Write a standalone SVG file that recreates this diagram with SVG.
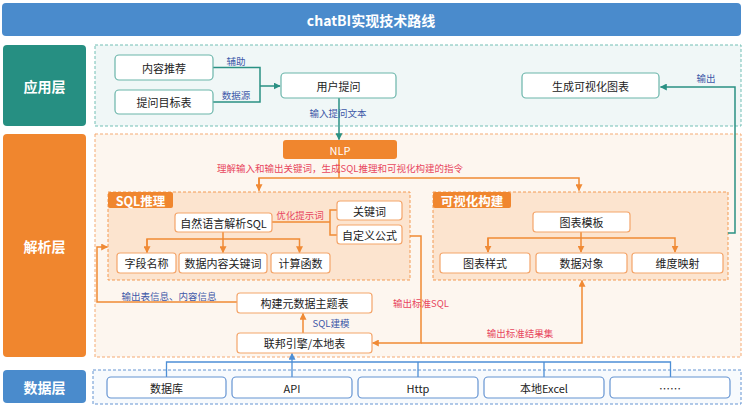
<svg xmlns="http://www.w3.org/2000/svg" width="743" height="406" viewBox="0 0 743 406">
<defs>
<style>
text{font-family:"Noto Sans CJK SC","Liberation Sans",sans-serif;text-anchor:middle;dominant-baseline:central}
.n{font-size:11px;fill:#222}
.hd{font-size:14px;font-weight:bold;fill:#fff}
.tab{font-size:12.5px;font-weight:bold;fill:#fff}
.lb{font-size:9.5px;fill:#3d58a8}
.lr{font-size:9.5px;fill:#e8465e}
.tn{fill:#fff;stroke:#6ab5aa;stroke-width:1.2}
.on{fill:#fff;stroke:#f4a56a;stroke-width:1.2}
.bn{fill:#fff;stroke:#6594d2;stroke-width:1.2}
.ct{stroke:#2a9184;stroke-width:1.5;fill:none}
.co{stroke:#f08a35;stroke-width:1.5;fill:none}
.cb{stroke:#4d8fd6;stroke-width:1.3;fill:none}
</style>
<marker id="at" viewBox="0 0 10 10" refX="9" refY="5" markerWidth="7" markerHeight="7" markerUnits="userSpaceOnUse" orient="auto"><path d="M0,0L10,5L0,10z" fill="#2a9184"/></marker>
<marker id="ao" viewBox="0 0 10 10" refX="9" refY="5" markerWidth="7" markerHeight="7" markerUnits="userSpaceOnUse" orient="auto"><path d="M0,0L10,5L0,10z" fill="#f08a35"/></marker>
<marker id="ab" viewBox="0 0 10 10" refX="9" refY="5" markerWidth="7" markerHeight="7" markerUnits="userSpaceOnUse" orient="auto"><path d="M0,0L10,5L0,10z" fill="#4d8fd6"/></marker>
</defs>
<rect width="743" height="406" fill="#fff"/>

<g id="title"><rect x="2" y="3" width="739" height="33" rx="4" fill="#4a8bcc"/><text x="371" y="20" class="hd">chatBI实现技术路线</text></g>

<g id="layers">
<rect x="95" y="45" width="646" height="81" fill="#f0f7f7" stroke="#72bfb5" stroke-dasharray="3,2"/>
<rect x="95" y="134" width="646" height="223" fill="#fdf6ef" stroke="#f5ab74" stroke-dasharray="3,2"/>
<rect x="93" y="370" width="648" height="34" fill="#f7fafd" stroke="#6594d2" stroke-dasharray="3,2"/>
</g>

<g id="layer-app"><rect x="3" y="45" width="83" height="81" rx="4" fill="#268f82"/><text x="44.5" y="85.5" class="hd">应用层</text></g>
<g id="layer-parse"><rect x="3" y="134" width="83" height="223" rx="4" fill="#f0862e"/><text x="44.5" y="245.5" class="hd">解析层</text></g>
<g id="layer-data"><rect x="3" y="370" width="83" height="33" rx="4" fill="#4a8bcc"/><text x="44.5" y="386.5" class="hd">数据层</text></g>

<g id="sql-group">
<rect x="108" y="192" width="302" height="88" fill="#fce4cf" stroke="#f39a52" stroke-dasharray="3,2"/>
<rect x="108" y="192" width="65" height="16" rx="2" fill="#f0862e"/><text x="140.5" y="200" class="tab">SQL推理</text>
</g>
<g id="vis-group">
<rect x="433" y="192" width="295" height="88" fill="#fce4cf" stroke="#f39a52" stroke-dasharray="3,2"/>
<rect x="433" y="192" width="78" height="16" rx="2" fill="#f0862e"/><text x="472" y="200" class="tab">可视化构建</text>
</g>

<g id="connectors">
<path class="ct" d="M213,67.5H260V102H213M260,86H280" marker-end="url(#at)"/>
<path class="ct" d="M339,98V139.5" marker-end="url(#at)"/>
<path class="ct" d="M728,233H735V87H660.5" marker-end="url(#at)"/>
<path class="co" d="M339,159V178M259,190.5V178H579V190.5" marker-end="url(#ao)"/>
<path class="co" d="M259,178V190.5" marker-end="url(#ao)"/>
<path class="co" d="M272,222H330M337,210H330V235H337"/>
<path class="co" d="M223,232V239M147,252.5V239H299.5V252.5" marker-end="url(#ao)"/>
<path class="co" d="M147,239V252.5" marker-end="url(#ao)"/>
<path class="co" d="M223,239V252.5" marker-end="url(#ao)"/>
<path class="co" d="M581,232V238M488,252V238H675V252" marker-end="url(#ao)"/>
<path class="co" d="M488,238V252" marker-end="url(#ao)"/>
<path class="co" d="M581,238V252" marker-end="url(#ao)"/>
<path class="co" d="M237,302H97V247H107.5" marker-end="url(#ao)"/>
<path class="co" d="M303,333V313.5" marker-end="url(#ao)"/>
<path class="co" d="M410,236H421V343H372.5" marker-end="url(#ao)"/>
<path class="co" d="M421,343H582V280.5" marker-end="url(#ao)"/>
<path class="cb" d="M166.5,377V362H670.5V377M292,362V353.5" marker-end="url(#ab)"/>
<path class="cb" d="M418,362V377M544,362V377M292,362V377"/>
</g>

<g id="labels">
<text x="236" y="61" class="lb">辅助</text>
<text x="236" y="95" class="lb">数据源</text>
<text x="338" y="113" class="lb">输入提问文本</text>
<text x="706" y="78" class="lb">输出</text>
<text x="340" y="168" class="lr">理解输入和输出关键词，生成SQL推理和可视化构建的指令</text>
<text x="300" y="215" class="lr">优化提示词</text>
<text x="169" y="296" class="lb">输出表信息、内容信息</text>
<text x="331" y="323" class="lb">SQL建模</text>
<text x="421" y="303" class="lr">输出标准SQL</text>
<text x="520" y="333" class="lr">输出标准结果集</text>
</g>

<g id="n-neirong"><rect x="115" y="55" width="98" height="25" rx="4" class="tn"/><text x="164" y="67.5" class="n">内容推荐</text></g>
<g id="n-tiwen-mubiao"><rect x="115" y="90" width="98" height="24" rx="4" class="tn"/><text x="164" y="102" class="n">提问目标表</text></g>
<g id="n-yonghu"><rect x="281" y="73" width="115" height="25" rx="4" class="tn"/><text x="338.5" y="85.5" class="n">用户提问</text></g>
<g id="n-shengcheng"><rect x="522" y="73" width="137" height="25" rx="4" class="tn"/><text x="590.5" y="85.5" class="n">生成可视化图表</text></g>

<g id="n-nlp"><rect x="283" y="140" width="114" height="19" rx="3" fill="#f0862e"/><text x="340" y="149.5" class="n" style="fill:#fff">NLP</text></g>

<g id="n-zrjx"><rect x="175" y="213" width="97" height="19" rx="3" class="on"/><text x="223.5" y="222.5" class="n">自然语言解析SQL</text></g>
<g id="n-gjc"><rect x="337" y="201" width="65" height="19" rx="3" class="on"/><text x="369.5" y="210.5" class="n">关键词</text></g>
<g id="n-zdy"><rect x="337" y="225" width="65" height="19" rx="3" class="on"/><text x="369.5" y="234.5" class="n">自定义公式</text></g>
<g id="n-zdmc"><rect x="117" y="253" width="59" height="20" rx="3" class="on"/><text x="146.5" y="263" class="n">字段名称</text></g>
<g id="n-sjnr"><rect x="179" y="253" width="88" height="20" rx="3" class="on"/><text x="223" y="263" class="n">数据内容关键词</text></g>
<g id="n-jshs"><rect x="271" y="253" width="59" height="20" rx="3" class="on"/><text x="300.5" y="263" class="n">计算函数</text></g>

<g id="n-tbmb"><rect x="533" y="212" width="97" height="20" rx="3" class="on"/><text x="581.5" y="222" class="n">图表模板</text></g>
<g id="n-tbys"><rect x="440" y="253" width="90" height="20" rx="3" class="on"/><text x="485" y="263" class="n">图表样式</text></g>
<g id="n-sjdx"><rect x="536" y="253" width="91" height="20" rx="3" class="on"/><text x="581.5" y="263" class="n">数据对象</text></g>
<g id="n-wdys"><rect x="632" y="253" width="91" height="20" rx="3" class="on"/><text x="677.5" y="263" class="n">维度映射</text></g>

<g id="n-gjys"><rect x="237" y="293" width="135" height="20" rx="3" class="on"/><text x="304.5" y="303" class="n">构建元数据主题表</text></g>
<g id="n-lbyq"><rect x="237" y="333" width="135" height="20" rx="3" class="on"/><text x="304.5" y="343" class="n">联邦引擎/本地表</text></g>

<g id="n-sjk"><rect x="107" y="377" width="119" height="21" rx="4" class="bn"/><text x="166.5" y="387.5" class="n">数据库</text></g>
<g id="n-api"><rect x="232" y="377" width="120" height="21" rx="4" class="bn"/><text x="292" y="387.5" class="n">API</text></g>
<g id="n-http"><rect x="358" y="377" width="120" height="21" rx="4" class="bn"/><text x="418" y="387.5" class="n">Http</text></g>
<g id="n-excel"><rect x="484" y="377" width="120" height="21" rx="4" class="bn"/><text x="544" y="387.5" class="n">本地Excel</text></g>
<g id="n-more"><rect x="610" y="377" width="120" height="21" rx="4" class="bn"/><text x="670" y="387.5" class="n">……</text></g>
</svg>
